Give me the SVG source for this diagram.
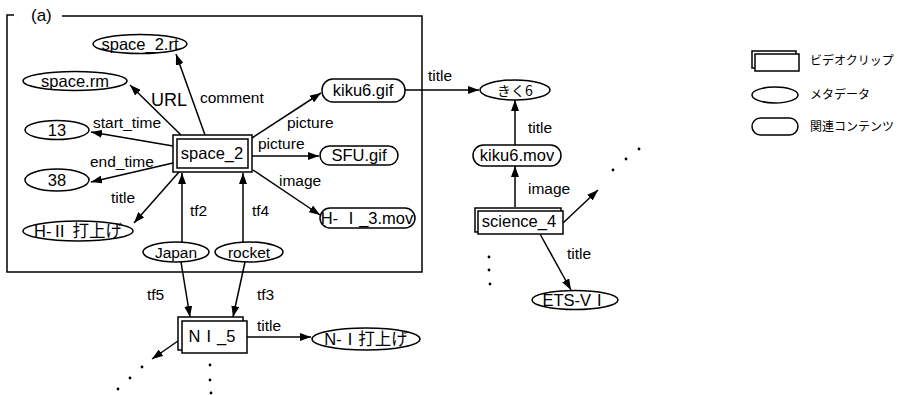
<svg xmlns="http://www.w3.org/2000/svg" width="900" height="395" viewBox="0 0 900 395">
<defs>
<marker id="ah" viewBox="0 0 11 8" refX="11" refY="4" markerWidth="11" markerHeight="8" orient="auto" markerUnits="userSpaceOnUse"><path d="M0,0 L11,4 L0,8 z" fill="#000"/></marker>
</defs>
<style>
text{font-family:"Liberation Sans","Noto Sans CJK JP",sans-serif;fill:#000}
.n{font-size:16.5px;text-anchor:middle}
.e{font-size:15.5px}
.lg{font-size:12px;font-family:"Noto Sans CJK JP",sans-serif}
.s{fill:#fff;stroke:#000;stroke-width:1.5}
.c line{stroke:#000;stroke-width:1.5;marker-end:url(#ah)}
.dot{fill:#000}
</style>
<rect width="900" height="395" fill="#fff"/>
<g id="frame" fill="none" stroke="#000" stroke-width="1.5">
<path d="M14,15 H7 V272 H422 V16 H62"/>
</g>
<text x="31" y="21" style="font-size:17px">(a)</text>

<g class="c" id="connectors">
<line x1="205" y1="135" x2="176" y2="54"/>
<line x1="181" y1="135" x2="130" y2="85"/>
<line x1="173" y1="146" x2="91" y2="132"/>
<line x1="173" y1="163" x2="91" y2="182"/>
<line x1="179" y1="172" x2="134" y2="223"/>
<line x1="252" y1="138" x2="321" y2="93"/>
<line x1="252" y1="156" x2="319" y2="156"/>
<line x1="253" y1="170" x2="320" y2="215"/>
<line x1="182" y1="242" x2="182" y2="173"/>
<line x1="243" y1="242" x2="243" y2="173"/>
<line x1="181" y1="262" x2="190" y2="317"/>
<line x1="245" y1="262" x2="233" y2="317"/>
<line x1="247" y1="337" x2="311" y2="337"/>
<line x1="178" y1="341" x2="152" y2="359"/>
<line x1="405" y1="90" x2="479" y2="90"/>
<line x1="515" y1="145" x2="515" y2="100"/>
<line x1="515" y1="207" x2="515" y2="166"/>
<line x1="563" y1="223" x2="598" y2="190"/>
<line x1="540" y1="234" x2="571" y2="290"/>
</g>
<g id="edge-labels">
<text class="e" x="200" y="103">comment</text>
<text x="151" y="106" style="font-size:18px">URL</text>
<text class="e" x="93" y="128">start_time</text>
<text class="e" x="90" y="167">end_time</text>
<text class="e" x="111" y="203">title</text>
<text class="e" x="287" y="128">picture</text>
<text class="e" x="258" y="149">picture</text>
<text class="e" x="279" y="186">image</text>
<text class="e" x="190" y="216">tf2</text>
<text class="e" x="252" y="216">tf4</text>
<text class="e" x="147" y="300">tf5</text>
<text class="e" x="257" y="300">tf3</text>
<text class="e" x="257" y="331">title</text>
<text class="e" x="428" y="81">title</text>
<text class="e" x="528" y="133">title</text>
<text class="e" x="528" y="194">image</text>
<text class="e" x="567" y="259">title</text>
</g>
<g id="dots">
<circle class="dot" cx="142" cy="367" r="1.4"/>
<circle class="dot" cx="130" cy="378" r="1.4"/>
<circle class="dot" cx="118" cy="389" r="1.4"/>
<circle class="dot" cx="210" cy="365" r="1.4"/>
<circle class="dot" cx="210" cy="380" r="1.4"/>
<circle class="dot" cx="211" cy="393" r="1.4"/>
<circle class="dot" cx="613" cy="170" r="1.4"/>
<circle class="dot" cx="626" cy="159" r="1.4"/>
<circle class="dot" cx="639" cy="149" r="1.4"/>
<circle class="dot" cx="489" cy="257" r="1.4"/>
<circle class="dot" cx="489" cy="270" r="1.4"/>
<circle class="dot" cx="490" cy="284" r="1.4"/>
</g>

<g id="space_2">
<rect class="s" x="173" y="135" width="79" height="37"/>
<rect class="s" x="177" y="139" width="71" height="29"/>
<text class="n" x="212" y="159">space_2</text>
</g>
<g id="space_2_rt">
<ellipse class="s" cx="140" cy="44" rx="47" ry="9.5"/>
<text class="n" x="140" y="50">space_2.rt</text>
</g>
<g id="space_rm">
<ellipse class="s" cx="75" cy="81" rx="52" ry="9.5"/>
<text class="n" x="75" y="87">space.rm</text>
</g>
<g id="n13">
<ellipse class="s" cx="57" cy="130" rx="32" ry="9.5"/>
<text class="n" x="57" y="136">13</text>
</g>
<g id="n38">
<ellipse class="s" cx="57" cy="180" rx="32" ry="11"/>
<text class="n" x="57" y="186">38</text>
</g>
<g id="h2">
<ellipse class="s" cx="78" cy="231" rx="55" ry="10"/>
<text class="n" x="78" y="237">H-Ⅱ 打上げ</text>
</g>
<g id="japan">
<ellipse class="s" cx="176" cy="252" rx="33" ry="10"/>
<text class="n" x="176" y="258" style="font-size:15.5px">Japan</text>
</g>
<g id="rocket">
<ellipse class="s" cx="249" cy="252" rx="34" ry="10"/>
<text class="n" x="249" y="258" style="font-size:15.5px">rocket</text>
</g>
<g id="kiku6_gif">
<rect class="s" x="322" y="79" width="83" height="23" rx="11"/>
<text class="n" x="363" y="96">kiku6.gif</text>
</g>
<g id="sfu_gif">
<rect class="s" x="320" y="146" width="78" height="19" rx="9.5"/>
<text class="n" x="359" y="161">SFU.gif</text>
</g>
<g id="h1_3_mov">
<rect class="s" x="320" y="208" width="95" height="20" rx="10"/>
<text class="n" x="367" y="224">H- Ⅰ_3.mov</text>
</g>
<g id="ni_5">
<rect class="s" x="178" y="317" width="65" height="33"/>
<rect class="s" x="182" y="321" width="65" height="32"/>
<text class="n" x="212" y="342">NⅠ_5</text>
</g>
<g id="n1">
<ellipse class="s" cx="366" cy="339" rx="54" ry="11"/>
<text class="n" x="366" y="345">N-Ⅰ打上げ</text>
</g>
<g id="kiku6">
<ellipse class="s" cx="515" cy="90" rx="35" ry="10"/>
<text class="n" x="515" y="96" style="font-family:'Noto Sans CJK JP',sans-serif;font-size:14px">きく6</text>
</g>
<g id="kiku6_mov">
<rect class="s" x="473" y="145" width="88" height="21" rx="10.5"/>
<text class="n" x="517" y="161">kiku6.mov</text>
</g>
<g id="science_4">
<rect class="s" x="475" y="208" width="86" height="24"/>
<rect class="s" x="478" y="211" width="85" height="23"/>
<text class="n" x="519" y="227">science_4</text>
</g>
<g id="ets">
<ellipse class="s" cx="575" cy="300" rx="43" ry="9.5"/>
<text class="n" x="575" y="306">ETS-VⅠ</text>
</g>

<g id="legend">
<rect class="s" x="752" y="51" width="44" height="17"/>
<rect class="s" x="755" y="54" width="44" height="17"/>
<text class="lg" x="810" y="65">ビデオクリップ</text>
<ellipse class="s" cx="775" cy="95" rx="23" ry="8"/>
<text class="lg" x="810" y="99">メタデータ</text>
<rect class="s" x="752" y="118" width="46" height="17" rx="8.5"/>
<text class="lg" x="810" y="131">関連コンテンツ</text>
</g>
</svg>
